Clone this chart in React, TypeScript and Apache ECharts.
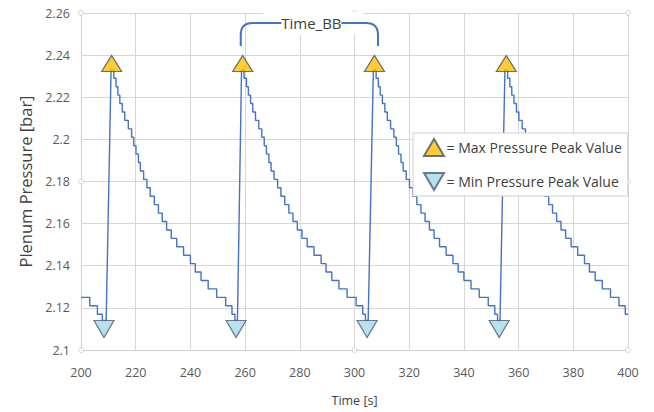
import React, { useEffect, useRef } from "react";
import * as echarts from "echarts";

// Quantized pressure levels of the stair-stepped decay [bar]
const pressureLevels = [
  2.233, 2.229, 2.225, 2.221, 2.217, 2.213, 2.209, 2.205, 2.201, 2.197, 2.193,
  2.189, 2.185, 2.181, 2.177, 2.173, 2.169, 2.165, 2.161, 2.157, 2.153, 2.149,
  2.145, 2.141, 2.137, 2.133, 2.129, 2.125, 2.121, 2.117, 2.114,
];

// Start times [s] of each level, per cycle
const cycle0Steps = [200.0, 203.2, 206.0, 207.8]; // levels 27..30
const cycle1Steps = [
  211.0, 212.0, 212.8, 213.5, 214.2, 215.1, 216.0, 217.3, 218.5, 219.3, 220.1,
  221.0, 221.7, 222.9, 224.1, 225.3, 226.8, 228.3, 229.7, 231.3, 233.0, 235.0,
  237.5, 240.0, 241.8, 243.9, 246.5, 249.6, 252.9, 255.2, 256.3,
];
const cycle2Steps = [
  258.7, 259.6, 260.5, 261.2, 262.0, 262.8, 263.8, 265.0, 266.1, 267.0, 267.8,
  268.7, 269.5, 270.6, 271.9, 273.1, 274.5, 276.0, 277.5, 279.1, 280.8, 282.7,
  285.2, 287.8, 289.6, 291.7, 294.3, 297.3, 300.6, 303.0, 304.0,
];
const cycle3Steps = [
  306.9, 307.9, 308.7, 309.4, 310.2, 311.1, 312.0, 313.2, 314.4, 315.3, 316.1,
  317.0, 317.8, 318.9, 320.1, 321.4, 322.8, 324.3, 325.8, 327.4, 329.1, 331.1,
  333.5, 336.0, 337.9, 340.0, 342.6, 345.6, 348.9, 351.3, 352.3,
];
const cycle4Steps = [
  355.0, 356.0, 356.8, 357.5, 358.3, 359.2, 360.1, 361.3, 362.5, 363.4, 364.2,
  365.1, 365.9, 367.0, 368.2, 369.5, 371.0, 372.4, 373.9, 375.5, 377.2, 379.2,
  381.6, 384.1, 385.9, 388.0, 390.6, 393.6, 396.7, 399.0,
];
// Time at which each minimum ends and the pressure rises
const riseStarts = [209.2, 257.2, 305.0, 353.2];
const endTime = 400;

// Peak markers
const maxPeakTimes = [211.2, 259.1, 307.3, 355.5];
const maxPeakValues = [2.236, 2.236, 2.236, 2.236];
const minPeakTimes = [208.4, 256.7, 304.6, 352.9];
const minPeakValues = [2.11, 2.11, 2.11, 2.11];

// Time_BB bracket: [start time, end time, bottom value, top value]
const timeBB = [258.4, 308.6, 2.2443, 2.2552];

// Excel plot-area selection handles
const handlePoints = [
  [200, 2.26], [300, 2.26], [400, 2.26], [200, 2.18],
  [400, 2.18], [200, 2.1], [300, 2.1], [400, 2.1],
];

const xTicks = { min: 200, max: 400, interval: 20 };
const yTicks = { min: 2.1, max: 2.26, interval: 0.02 };

const FONT = "Open Sans";

function buildLine() {
  const cycles = [
    { steps: cycle0Steps, first: 27, end: riseStarts[0] },
    { steps: cycle1Steps, first: 0, end: riseStarts[1] },
    { steps: cycle2Steps, first: 0, end: riseStarts[2] },
    { steps: cycle3Steps, first: 0, end: riseStarts[3] },
    { steps: cycle4Steps, first: 0, end: endTime },
  ];
  const pts: number[][] = [];
  cycles.forEach((c) => {
    c.steps.forEach((t, i) => {
      const lvl = pressureLevels[c.first + i];
      const next = i + 1 < c.steps.length ? c.steps[i + 1] : c.end;
      pts.push([t, lvl]);
      pts.push([next, lvl]);
    });
  });
  return pts;
}

export default function App() {
  const ref = useRef<HTMLDivElement>(null);
  useEffect(() => {
    document.body.style.margin = "0";
    const chart = echarts.init(ref.current!, null, { renderer: "svg" });
    const upTri = "path://M10,0 L20,17 L0,17 Z";
    const downTri = "path://M0,0 L20,0 L10,17 Z";
    chart.setOption({
      animation: false,
      backgroundColor: "#ffffff",
      textStyle: { fontFamily: FONT },
      grid: { left: 81, right: 26, top: 13, bottom: 56 },
      xAxis: {
        type: "value",
        ...xTicks,
        axisLine: { show: true, lineStyle: { color: "#D0D0D0" } },
        axisTick: { show: false },
        splitLine: { show: true, lineStyle: { color: "#D6D6D6" } },
        axisLabel: { color: "#595959", fontSize: 12.5, margin: 16, fontFamily: FONT },
        name: "Time [s]",
        nameLocation: "middle",
        nameGap: 44,
        nameTextStyle: { color: "#404040", fontSize: 12.5, fontFamily: FONT },
      },
      yAxis: {
        type: "value",
        ...yTicks,
        axisLine: { show: true, lineStyle: { color: "#D0D0D0" } },
        axisTick: { show: false },
        splitLine: { show: true, lineStyle: { color: "#D6D6D6" } },
        axisLabel: { color: "#595959", fontSize: 12.5, margin: 11, fontFamily: FONT },
        name: "Plenum Pressure [bar]",
        nameLocation: "middle",
        nameGap: 47,
        nameTextStyle: { color: "#404040", fontSize: 16.5, fontFamily: FONT },
      },
      legend: {
        orient: "vertical",
        left: 413,
        top: 133,
        backgroundColor: "#ffffff",
        borderColor: "#D0D0D0",
        borderWidth: 1,
        padding: [5, 6, 5, 10],
        itemGap: 15,
        itemWidth: 21,
        itemHeight: 17,
        selectedMode: false,
        textStyle: { fontSize: 14, color: "#404040", fontFamily: FONT, padding: [0, 0, 0, -3] },
        data: ["= Max Pressure Peak Value", "= Min Pressure Peak Value"],
        z: 20,
      },
      series: [
        {
          type: "line",
          name: "pressure",
          data: buildLine(),
          showSymbol: false,
          silent: true,
          lineStyle: { color: "#4472C4", width: 1.4 },
          z: 2,
        },
        {
          type: "scatter",
          name: "= Max Pressure Peak Value",
          data: maxPeakTimes.map((t, i) => [t, maxPeakValues[i]]),
          symbol: upTri,
          symbolSize: [20, 16],
          itemStyle: { color: "#FFC000", borderColor: "#44546A", borderWidth: 1.2 },
          silent: true,
          z: 5,
        },
        {
          type: "scatter",
          name: "= Min Pressure Peak Value",
          data: minPeakTimes.map((t, i) => [t, minPeakValues[i]]),
          symbol: downTri,
          symbolSize: [20, 17],
          itemStyle: { color: "#A8D8EA", borderColor: "#4A5E6E", borderWidth: 1.2 },
          silent: true,
          z: 5,
        },
        {
          type: "scatter",
          name: "handles",
          data: handlePoints,
          symbol: "circle",
          symbolSize: 5,
          itemStyle: { color: "#ffffff", borderColor: "#C8C8C8", borderWidth: 1 },
          silent: true,
          z: 4,
        },
        {
          type: "custom",
          name: "Time_BB",
          data: [timeBB],
          encode: { x: [0, 1], y: [2, 3] },
          clip: false,
          silent: true,
          z: 6,
          renderItem: (params: any, api: any) => {
            const p1 = api.coord([api.value(0), api.value(2)]);
            const p2 = api.coord([api.value(1), api.value(3)]);
            const x1 = p1[0];
            const yb = p1[1];
            const x2 = p2[0];
            const yt = p2[1];
            const r = 12;
            const mid = (x1 + x2) / 2 + 2;
            const half = 30;
            const ls = { stroke: "#4472C4", lineWidth: 2, fill: null };
            return {
              type: "group",
              children: [
                {
                  type: "rect",
                  shape: { x: mid - 48, y: yt - 11, width: 100, height: 23 },
                  style: { fill: "#ffffff" },
                },
                {
                  type: "path",
                  shape: {
                    pathData: `M${x1} ${yb} L${x1} ${yt + r} Q${x1} ${yt} ${x1 + r} ${yt} L${mid - half} ${yt}`,
                  },
                  style: ls,
                },
                {
                  type: "path",
                  shape: {
                    pathData: `M${mid + half} ${yt} L${x2 - r} ${yt} Q${x2} ${yt} ${x2} ${yt + r} L${x2} ${yb}`,
                  },
                  style: ls,
                },
                {
                  type: "text",
                  x: mid,
                  y: yt,
                  style: {
                    text: "Time_BB",
                    fill: "#404040",
                    fontSize: 15,
                    fontFamily: FONT,
                    align: "center",
                    verticalAlign: "middle",
                  },
                },
              ],
            };
          },
        },
      ],
    });
    return () => chart.dispose();
  }, []);
  return <div ref={ref} style={{ width: 654, height: 412 }} />;
}
